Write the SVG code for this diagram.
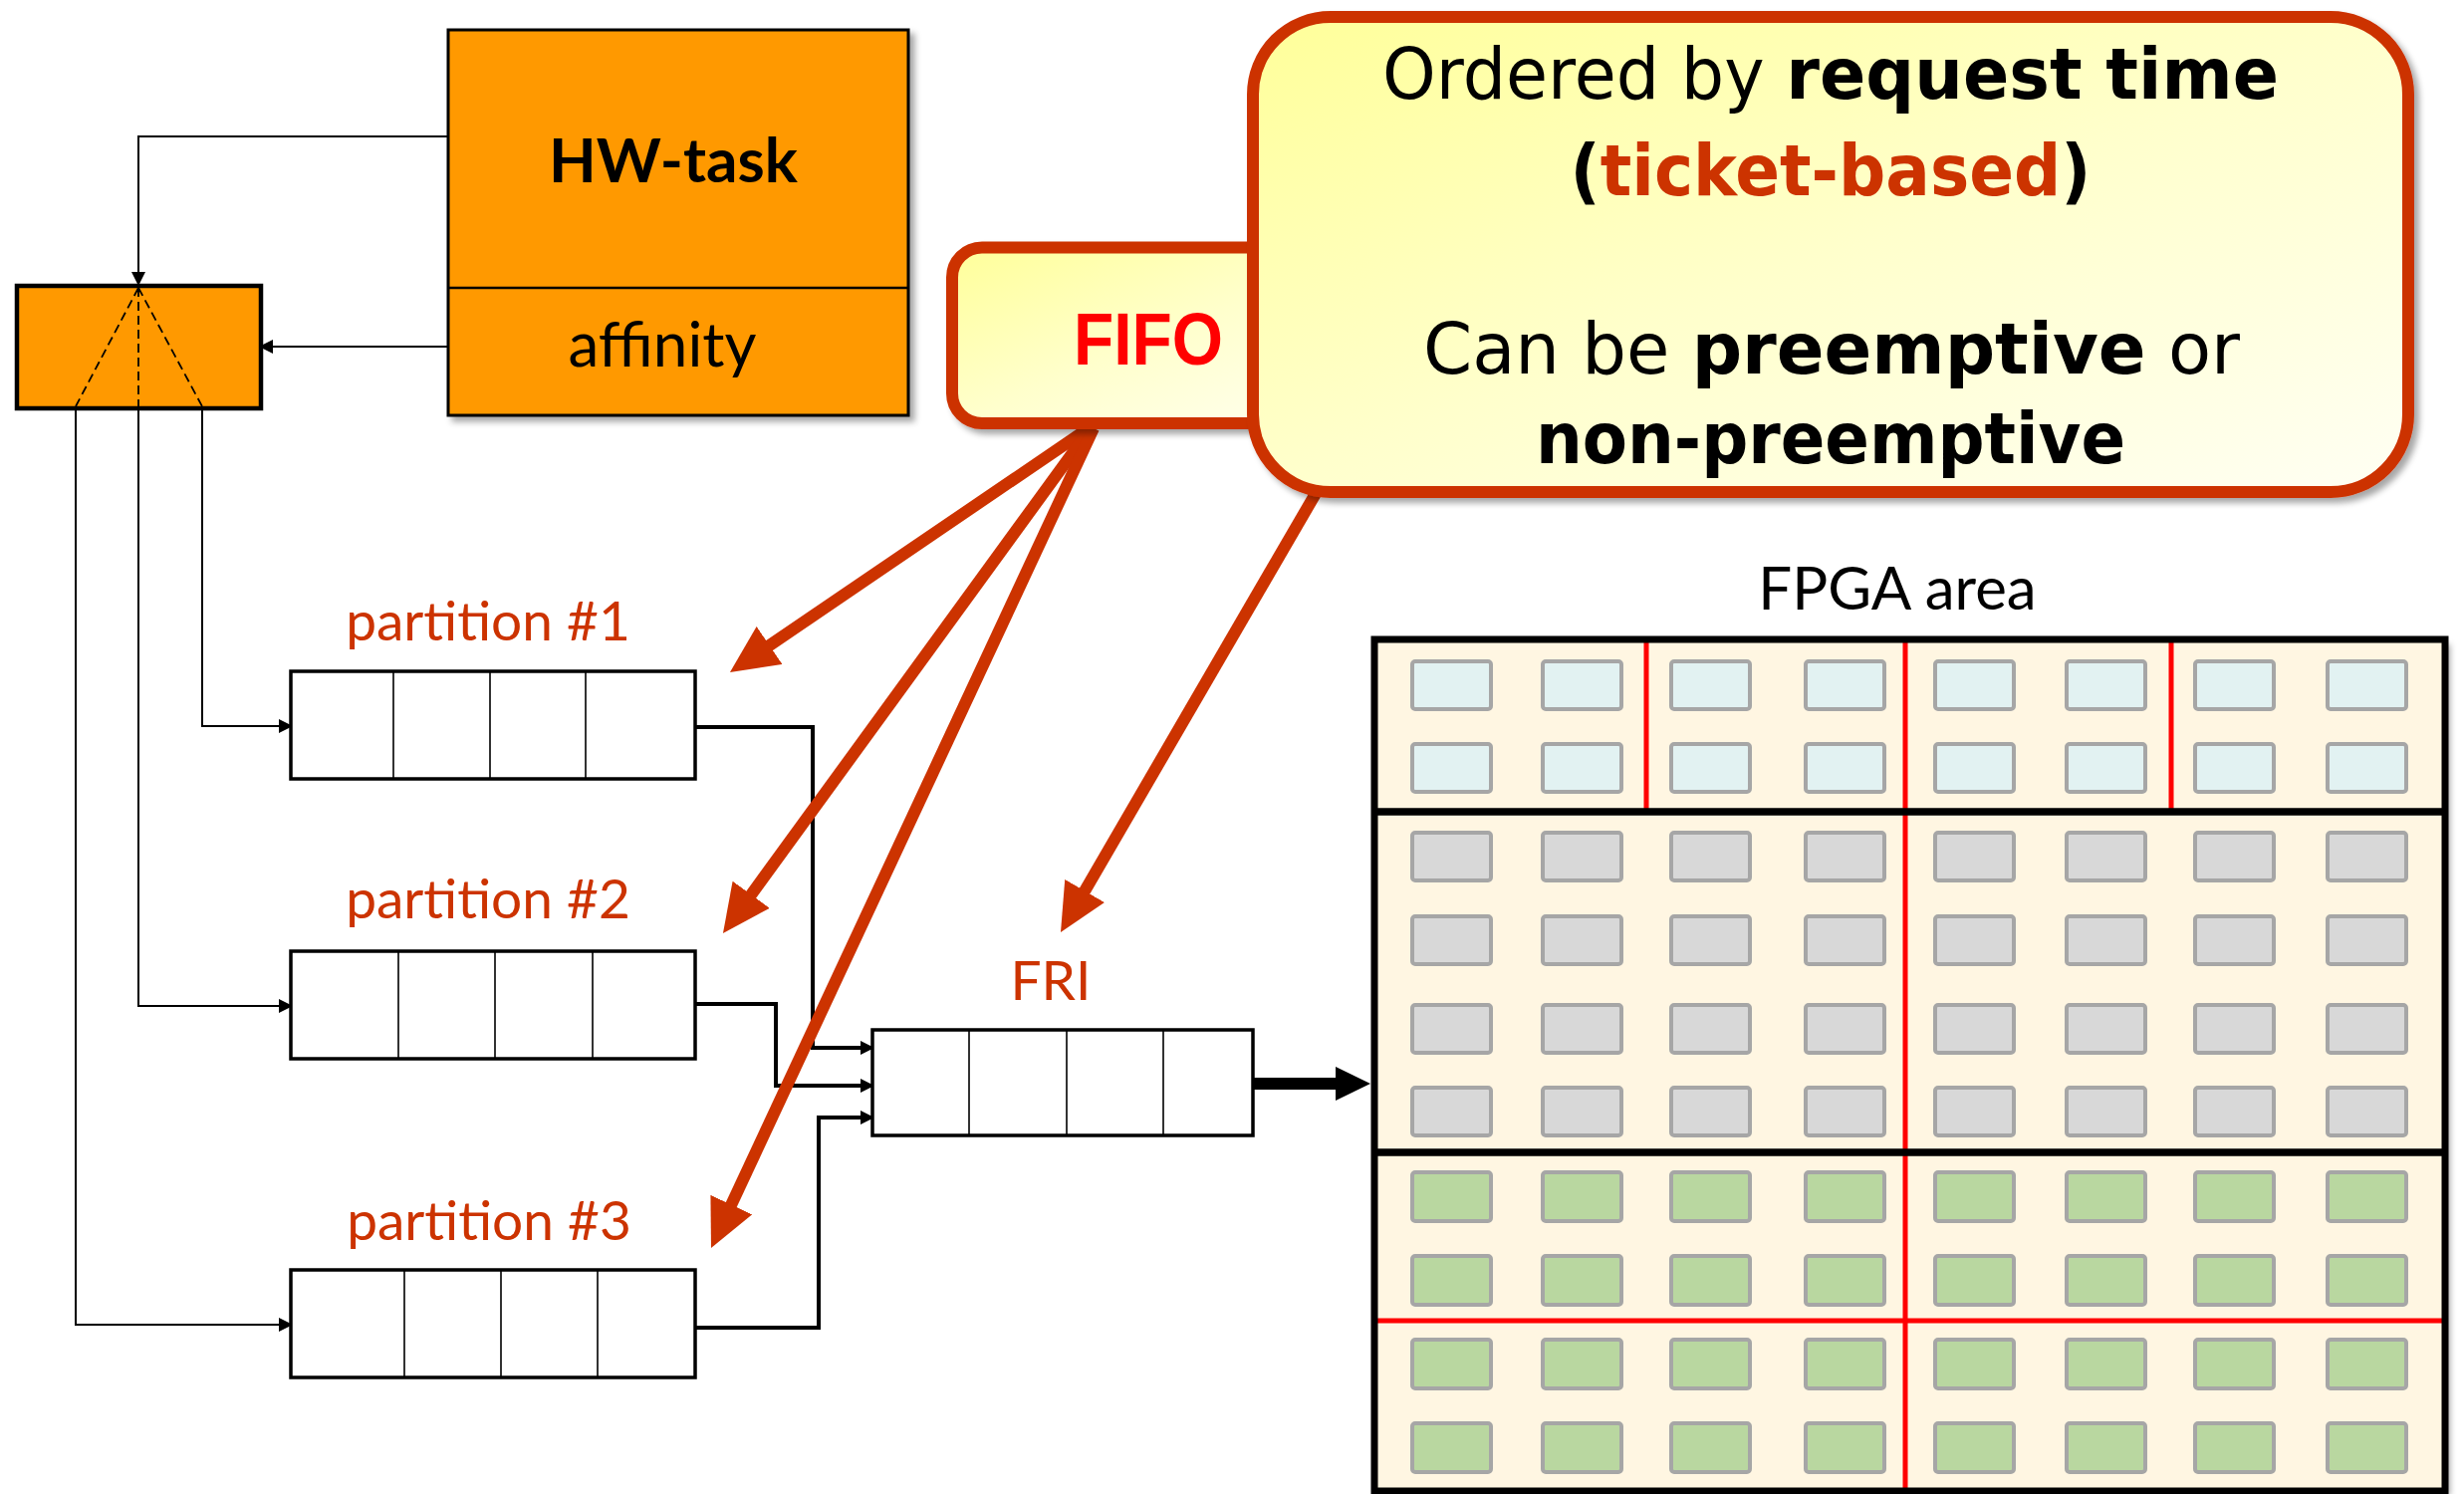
<svg xmlns="http://www.w3.org/2000/svg" width="2474" height="1500" viewBox="0 0 2474 1500">
  <style>
    .lbl { font-family: Lato, "Liberation Sans", sans-serif; }
    .part-lbl { font-family: Lato, "Liberation Sans", sans-serif; font-size: 55px; fill: #CC3300; text-anchor: middle; }
    .co { font-family: "DejaVu Sans", "Liberation Sans", sans-serif; font-size: 71px; fill: #000; text-anchor: middle; }
    .thin { fill: none; stroke: #000; stroke-width: 2; }
    .thick { fill: none; stroke: #000; stroke-width: 4; }
    .dash { fill: none; stroke: #000; stroke-width: 1.8; stroke-dasharray: 9 5; }
    .queue { fill: #fff; stroke: #000; stroke-width: 3.5; }
    .cell-div { stroke: #000; stroke-width: 1.6; }
    .red-arrow { fill: none; stroke: #CC3300; stroke-width: 12; marker-end: url(#head-red); }
    .orange { fill: #FF9900; stroke: #000; }
    .callout { stroke: #CC3300; stroke-width: 12; fill: url(#note-fill); }
    .pr { stroke: #FF0000; stroke-width: 5; }
    .cell { stroke: #A6A6A6; stroke-width: 4; }
    .c-blue { fill: #E2F2F2; }
    .c-gray { fill: #D8D8D8; }
    .c-green { fill: #B9D7A0; }
  </style>
  <defs>
    <marker id="head-s" viewBox="0 0 14 14" refX="12" refY="7" markerWidth="14" markerHeight="14" markerUnits="userSpaceOnUse" orient="auto">
      <path d="M0,0 L14,7 L0,14 z" fill="#000"/>
    </marker>
    <marker id="head-red" viewBox="0 0 48 46" refX="8" refY="23" markerWidth="48" markerHeight="46" markerUnits="userSpaceOnUse" orient="auto">
      <path d="M0,0 L48,23 L0,46 z" fill="#CC3300"/>
    </marker>
    <marker id="head-big" viewBox="0 0 35 34" refX="5" refY="17" markerWidth="35" markerHeight="34" markerUnits="userSpaceOnUse" orient="auto">
      <path d="M0,0 L35,17 L0,34 z" fill="#000"/>
    </marker>
    <linearGradient id="note-fill" x1="0" y1="0" x2="1" y2="1">
      <stop offset="0" stop-color="#FFFF99"/>
      <stop offset="0.5" stop-color="#FFFFCC"/>
      <stop offset="1" stop-color="#FFFFF4"/>
    </linearGradient>
    <filter id="shadow" x="-5%" y="-5%" width="115%" height="115%">
      <feDropShadow dx="5" dy="5" stdDeviation="3" flood-color="#000" flood-opacity="0.35"/>
    </filter>
  </defs>

  <!-- wiring between task, selector, partition queues and FRI -->
  <g id="connectors">
    <path class="thin" d="M450,137 H139 V285" marker-end="url(#head-s)"/>
    <path class="thin" d="M450,348 H262" marker-end="url(#head-s)"/>
    <path class="thin" d="M203,411 V729 H292" marker-end="url(#head-s)"/>
    <path class="thin" d="M139,411 V1010 H292" marker-end="url(#head-s)"/>
    <path class="thin" d="M76,411 V1330 H292" marker-end="url(#head-s)"/>
    <path class="thick" d="M698,730 H816 V1052 H876" marker-end="url(#head-s)"/>
    <path class="thick" d="M698,1008 H779 V1090 H876" marker-end="url(#head-s)"/>
    <path class="thick" d="M698,1333 H822 V1122 H876" marker-end="url(#head-s)"/>
    <path d="M1258,1088 H1346" fill="none" stroke="#000" stroke-width="12" marker-end="url(#head-big)"/>
  </g>

  <!-- HW-task descriptor -->
  <g id="hw-task">
    <rect class="orange" x="450" y="30" width="462" height="387" stroke-width="3" filter="url(#shadow)"/>
    <line x1="450" y1="289" x2="912" y2="289" stroke="#000" stroke-width="2.5"/>
    <text class="lbl" x="676" y="183" font-size="62" font-weight="bold" text-anchor="middle">HW-task</text>
    <text class="lbl" x="665" y="368" font-size="62" text-anchor="middle">affinity</text>
  </g>

  <!-- affinity selector -->
  <g id="selector">
    <rect class="orange" x="17" y="287" width="245" height="123" stroke-width="4.5"/>
    <path class="dash" d="M139,289 L76,408 M139,289 V408 M139,289 L203,408"/>
  </g>

  <!-- partition queues -->
  <g id="partition-1">
    <text class="part-lbl" x="490" y="643">partition #1</text>
    <rect class="queue" x="292" y="674" width="406" height="108"/>
    <path class="cell-div" d="M395,674 V782 M492,674 V782 M588,674 V782"/>
  </g>
  <g id="partition-2">
    <text class="part-lbl" x="490" y="922">partition #2</text>
    <rect class="queue" x="292" y="955" width="406" height="108"/>
    <path class="cell-div" d="M400,955 V1063 M497,955 V1063 M595,955 V1063"/>
  </g>
  <g id="partition-3">
    <text class="part-lbl" x="491" y="1245">partition #3</text>
    <rect class="queue" x="292" y="1275" width="406" height="108"/>
    <path class="cell-div" d="M406,1275 V1383 M503,1275 V1383 M600,1275 V1383"/>
  </g>

  <!-- FRI queue -->
  <g id="fri">
    <text class="part-lbl" x="1055" y="1004" font-size="52">FRI</text>
    <rect class="queue" x="876" y="1034" width="382" height="106"/>
    <path class="cell-div" d="M973,1034 V1140 M1071,1034 V1140 M1168,1034 V1140"/>
  </g>

  <!-- FPGA area -->
  <g id="fpga-area">
    <text class="lbl" x="1905" y="612" font-size="60" text-anchor="middle">FPGA area</text>
    <rect x="1380" y="642" width="1075" height="855" fill="#FFF6E2" stroke="none" filter="url(#shadow)"/>
    <g class="cell c-blue">
      <rect x="1418" y="664" width="79" height="48" rx="3"/><rect x="1549" y="664" width="79" height="48" rx="3"/><rect x="1678" y="664" width="79" height="48" rx="3"/><rect x="1813" y="664" width="79" height="48" rx="3"/><rect x="1943" y="664" width="79" height="48" rx="3"/><rect x="2075" y="664" width="79" height="48" rx="3"/><rect x="2204" y="664" width="79" height="48" rx="3"/><rect x="2337" y="664" width="79" height="48" rx="3"/>
      <rect x="1418" y="747" width="79" height="48" rx="3"/><rect x="1549" y="747" width="79" height="48" rx="3"/><rect x="1678" y="747" width="79" height="48" rx="3"/><rect x="1813" y="747" width="79" height="48" rx="3"/><rect x="1943" y="747" width="79" height="48" rx="3"/><rect x="2075" y="747" width="79" height="48" rx="3"/><rect x="2204" y="747" width="79" height="48" rx="3"/><rect x="2337" y="747" width="79" height="48" rx="3"/>
    </g>
    <g class="cell c-gray">
      <rect x="1418" y="836" width="79" height="48" rx="3"/><rect x="1549" y="836" width="79" height="48" rx="3"/><rect x="1678" y="836" width="79" height="48" rx="3"/><rect x="1813" y="836" width="79" height="48" rx="3"/><rect x="1943" y="836" width="79" height="48" rx="3"/><rect x="2075" y="836" width="79" height="48" rx="3"/><rect x="2204" y="836" width="79" height="48" rx="3"/><rect x="2337" y="836" width="79" height="48" rx="3"/>
      <rect x="1418" y="920" width="79" height="48" rx="3"/><rect x="1549" y="920" width="79" height="48" rx="3"/><rect x="1678" y="920" width="79" height="48" rx="3"/><rect x="1813" y="920" width="79" height="48" rx="3"/><rect x="1943" y="920" width="79" height="48" rx="3"/><rect x="2075" y="920" width="79" height="48" rx="3"/><rect x="2204" y="920" width="79" height="48" rx="3"/><rect x="2337" y="920" width="79" height="48" rx="3"/>
      <rect x="1418" y="1009" width="79" height="48" rx="3"/><rect x="1549" y="1009" width="79" height="48" rx="3"/><rect x="1678" y="1009" width="79" height="48" rx="3"/><rect x="1813" y="1009" width="79" height="48" rx="3"/><rect x="1943" y="1009" width="79" height="48" rx="3"/><rect x="2075" y="1009" width="79" height="48" rx="3"/><rect x="2204" y="1009" width="79" height="48" rx="3"/><rect x="2337" y="1009" width="79" height="48" rx="3"/>
      <rect x="1418" y="1092" width="79" height="48" rx="3"/><rect x="1549" y="1092" width="79" height="48" rx="3"/><rect x="1678" y="1092" width="79" height="48" rx="3"/><rect x="1813" y="1092" width="79" height="48" rx="3"/><rect x="1943" y="1092" width="79" height="48" rx="3"/><rect x="2075" y="1092" width="79" height="48" rx="3"/><rect x="2204" y="1092" width="79" height="48" rx="3"/><rect x="2337" y="1092" width="79" height="48" rx="3"/>
    </g>
    <g class="cell c-green">
      <rect x="1418" y="1177" width="79" height="49" rx="3"/><rect x="1549" y="1177" width="79" height="49" rx="3"/><rect x="1678" y="1177" width="79" height="49" rx="3"/><rect x="1813" y="1177" width="79" height="49" rx="3"/><rect x="1943" y="1177" width="79" height="49" rx="3"/><rect x="2075" y="1177" width="79" height="49" rx="3"/><rect x="2204" y="1177" width="79" height="49" rx="3"/><rect x="2337" y="1177" width="79" height="49" rx="3"/>
      <rect x="1418" y="1261" width="79" height="49" rx="3"/><rect x="1549" y="1261" width="79" height="49" rx="3"/><rect x="1678" y="1261" width="79" height="49" rx="3"/><rect x="1813" y="1261" width="79" height="49" rx="3"/><rect x="1943" y="1261" width="79" height="49" rx="3"/><rect x="2075" y="1261" width="79" height="49" rx="3"/><rect x="2204" y="1261" width="79" height="49" rx="3"/><rect x="2337" y="1261" width="79" height="49" rx="3"/>
      <rect x="1418" y="1345" width="79" height="49" rx="3"/><rect x="1549" y="1345" width="79" height="49" rx="3"/><rect x="1678" y="1345" width="79" height="49" rx="3"/><rect x="1813" y="1345" width="79" height="49" rx="3"/><rect x="1943" y="1345" width="79" height="49" rx="3"/><rect x="2075" y="1345" width="79" height="49" rx="3"/><rect x="2204" y="1345" width="79" height="49" rx="3"/><rect x="2337" y="1345" width="79" height="49" rx="3"/>
      <rect x="1418" y="1429" width="79" height="49" rx="3"/><rect x="1549" y="1429" width="79" height="49" rx="3"/><rect x="1678" y="1429" width="79" height="49" rx="3"/><rect x="1813" y="1429" width="79" height="49" rx="3"/><rect x="1943" y="1429" width="79" height="49" rx="3"/><rect x="2075" y="1429" width="79" height="49" rx="3"/><rect x="2204" y="1429" width="79" height="49" rx="3"/><rect x="2337" y="1429" width="79" height="49" rx="3"/>
    </g>
    <!-- partition boundaries -->
    <path class="pr" d="M1653,642 V815 M1913,642 V1497 M2180,639 V815 M1380,1326 H2455"/>
    <!-- region separators and outline -->
    <path d="M1380,815 H2455 M1380,1157 H2455" stroke="#000" stroke-width="7.5"/>
    <rect x="1380" y="642" width="1075" height="855" fill="none" stroke="#000" stroke-width="7"/>
  </g>

  <!-- policy call-out arrows -->
  <g id="callout-arrows">
    <path class="red-arrow" d="M1093,430 L766,652.5"/>
    <path class="red-arrow" d="M1095,430 L749.5,904.7"/>
    <path class="red-arrow" d="M1098,430 L730.9,1216.8"/>
    <path class="red-arrow" d="M1330,480 L1085.1,901.4"/>
  </g>

  <!-- FIFO call-out -->
  <g id="fifo-note">
    <rect class="callout" x="956" y="248.5" width="420" height="176.5" rx="30" filter="url(#shadow)"/>
    <text x="1153" y="366" font-family="'Liberation Sans', sans-serif" font-size="75" font-weight="bold" fill="#FF0000" text-anchor="middle" textLength="150" lengthAdjust="spacingAndGlyphs">FIFO</text>
  </g>

  <!-- scheduling policy call-out -->
  <g id="policy-note">
    <rect class="callout" x="1258" y="17" width="1160" height="477" rx="78" filter="url(#shadow)"/>
    <text class="co" x="1838" y="99" font-size="69" textLength="900" lengthAdjust="spacingAndGlyphs">Ordered by <tspan font-weight="bold">request time</tspan></text>
    <text class="co" x="1838" y="196" font-weight="bold" font-size="66" textLength="523" lengthAdjust="spacingAndGlyphs">(<tspan fill="#CC3300">ticket-based</tspan>)</text>
    <text class="co" x="1839" y="375" textLength="820" lengthAdjust="spacingAndGlyphs">Can be <tspan font-weight="bold">preemptive</tspan> or</text>
    <text class="co" x="1838" y="465" font-weight="bold" textLength="592" lengthAdjust="spacingAndGlyphs">non-preemptive</text>
  </g>
</svg>
